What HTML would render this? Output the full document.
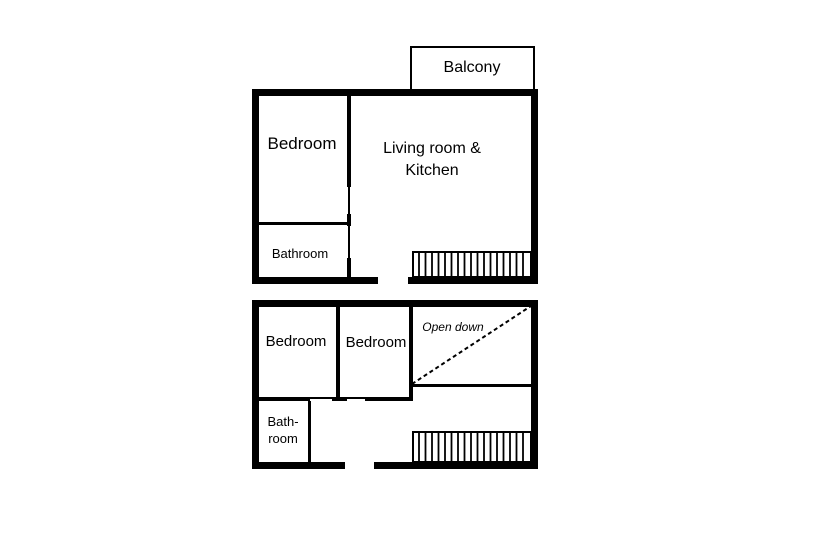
<!DOCTYPE html>
<html><head><style>body{margin:0;background:#fff}svg{display:block}</style></head><body>
<svg width="831" height="555" viewBox="0 0 831 555" xmlns="http://www.w3.org/2000/svg" font-family="Liberation Sans, sans-serif">
<rect width="831" height="555" fill="#fff"/>
<rect x="411" y="47" width="123" height="44" fill="none" stroke="#000" stroke-width="2"/>
<g fill="#000">
<rect x="252" y="89" width="286" height="7"/>
<rect x="252" y="89" width="7" height="195"/>
<rect x="531" y="89" width="7" height="195"/>
<rect x="252" y="277" width="126" height="7"/>
<rect x="408" y="277" width="130" height="7"/>
<rect x="347" y="95" width="4" height="92"/>
<rect x="348" y="187" width="2" height="35"/>
<rect x="347" y="214" width="4" height="12"/>
<rect x="348" y="226" width="2" height="50"/>
<rect x="347" y="258" width="4" height="19"/>
<rect x="258" y="222" width="93" height="3"/>
</g>
<rect x="413" y="252" width="118" height="25" fill="none" stroke="#000" stroke-width="2"/>
<g fill="#000">
<rect x="252" y="300" width="286" height="7"/>
<rect x="252" y="300" width="7" height="169"/>
<rect x="531" y="300" width="7" height="169"/>
<rect x="252" y="462" width="93" height="7"/>
<rect x="374" y="462" width="164" height="7"/>
<rect x="336" y="306" width="4" height="95"/>
<rect x="409" y="306" width="4" height="95"/>
<rect x="258" y="397" width="155" height="2"/>
<rect x="258" y="397" width="52" height="4"/>
<rect x="332" y="397" width="15" height="4"/>
<rect x="365" y="397" width="48" height="4"/>
<rect x="308" y="401" width="3" height="61"/>
<rect x="412" y="384" width="119" height="3"/>
</g>
<line x1="412" y1="384" x2="531" y2="306" stroke="#000" stroke-width="2" stroke-dasharray="4,3"/>
<rect x="413" y="432" width="118" height="30" fill="none" stroke="#000" stroke-width="2"/>
<g stroke="#000" stroke-width="1.8">
<line x1="419" y1="252" x2="419" y2="277"/><line x1="425.5" y1="252" x2="425.5" y2="277"/><line x1="432" y1="252" x2="432" y2="277"/><line x1="438.5" y1="252" x2="438.5" y2="277"/><line x1="445" y1="252" x2="445" y2="277"/><line x1="451.5" y1="252" x2="451.5" y2="277"/><line x1="458" y1="252" x2="458" y2="277"/><line x1="464.5" y1="252" x2="464.5" y2="277"/><line x1="471" y1="252" x2="471" y2="277"/><line x1="477.5" y1="252" x2="477.5" y2="277"/><line x1="484" y1="252" x2="484" y2="277"/><line x1="490.5" y1="252" x2="490.5" y2="277"/><line x1="497" y1="252" x2="497" y2="277"/><line x1="503.5" y1="252" x2="503.5" y2="277"/><line x1="510" y1="252" x2="510" y2="277"/><line x1="516.5" y1="252" x2="516.5" y2="277"/><line x1="523" y1="252" x2="523" y2="277"/>
<line x1="419" y1="432" x2="419" y2="462"/><line x1="425.5" y1="432" x2="425.5" y2="462"/><line x1="432" y1="432" x2="432" y2="462"/><line x1="438.5" y1="432" x2="438.5" y2="462"/><line x1="445" y1="432" x2="445" y2="462"/><line x1="451.5" y1="432" x2="451.5" y2="462"/><line x1="458" y1="432" x2="458" y2="462"/><line x1="464.5" y1="432" x2="464.5" y2="462"/><line x1="471" y1="432" x2="471" y2="462"/><line x1="477.5" y1="432" x2="477.5" y2="462"/><line x1="484" y1="432" x2="484" y2="462"/><line x1="490.5" y1="432" x2="490.5" y2="462"/><line x1="497" y1="432" x2="497" y2="462"/><line x1="503.5" y1="432" x2="503.5" y2="462"/><line x1="510" y1="432" x2="510" y2="462"/><line x1="516.5" y1="432" x2="516.5" y2="462"/><line x1="523" y1="432" x2="523" y2="462"/>
</g>
<g fill="#000" text-anchor="middle">
<text x="472" y="72" font-size="16">Balcony</text>
<text x="302" y="149" font-size="17">Bedroom</text>
<text x="432" y="153" font-size="16">Living room &amp;</text>
<text x="432" y="175" font-size="16">Kitchen</text>
<text x="300" y="258" font-size="13">Bathroom</text>
<text x="296" y="346" font-size="15">Bedroom</text>
<text x="376" y="347" font-size="15">Bedroom</text>
<text x="453" y="331" font-size="12" font-style="italic">Open down</text>
<text x="283" y="426" font-size="13">Bath-</text>
<text x="283" y="443" font-size="13">room</text>
</g>
</svg>
</body></html>
